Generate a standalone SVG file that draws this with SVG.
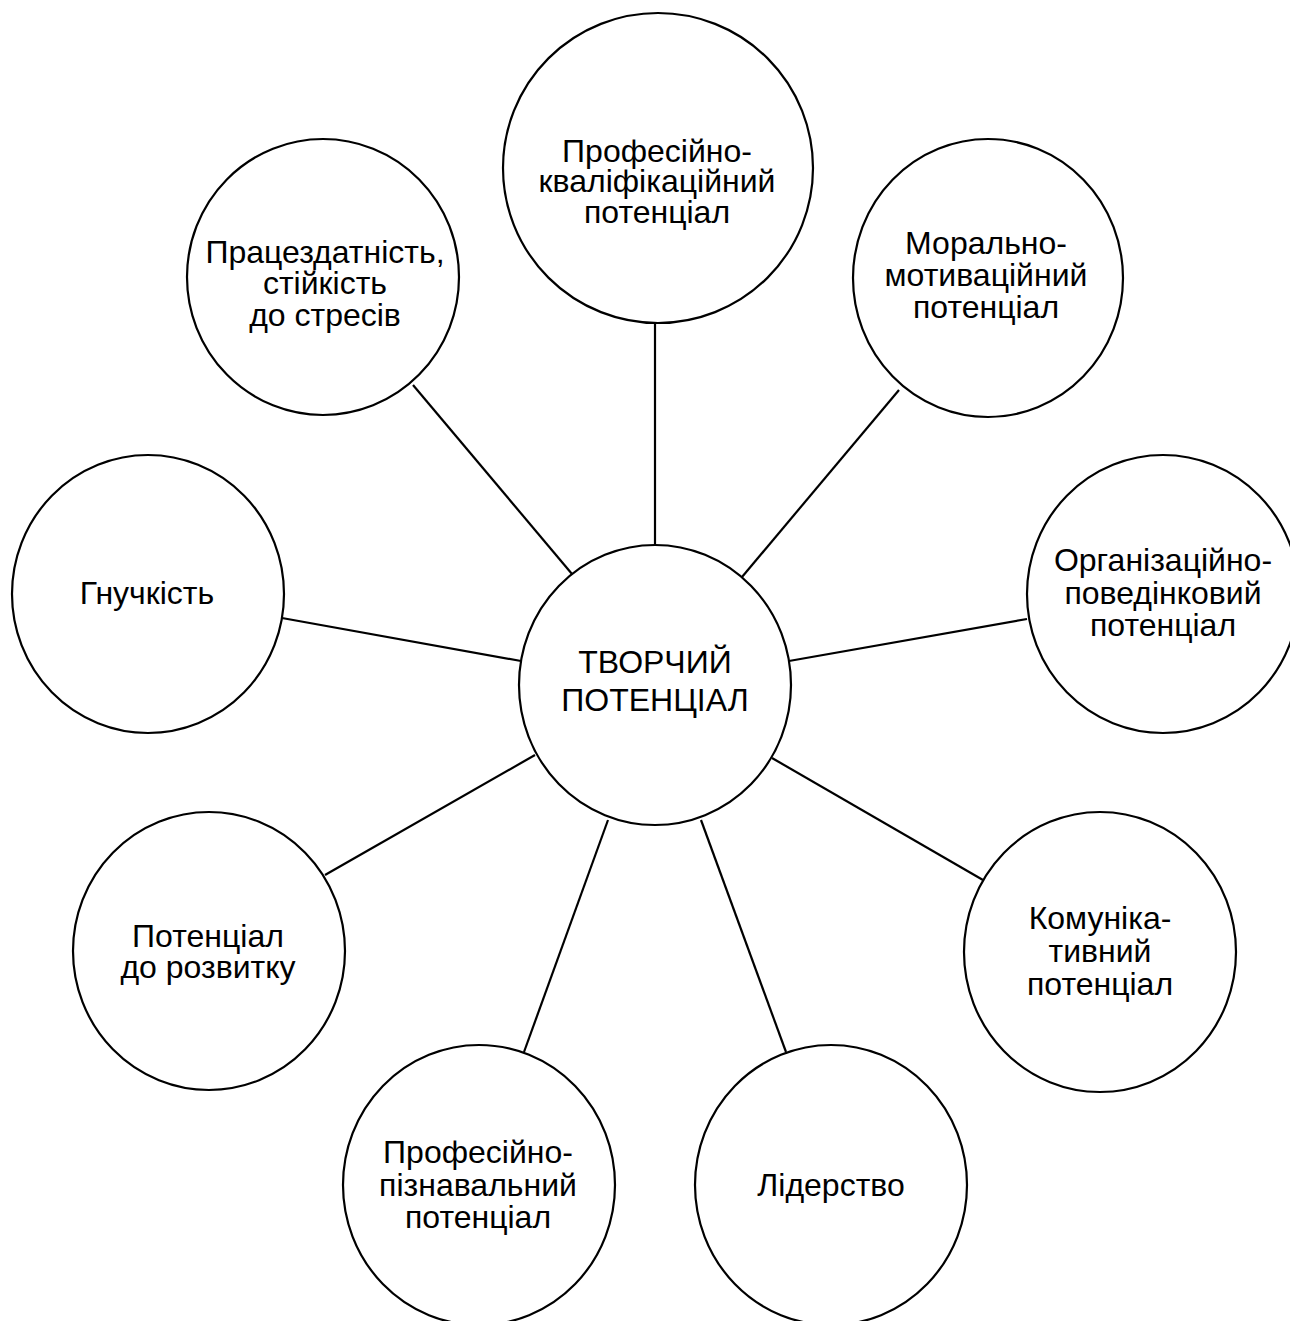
<svg xmlns="http://www.w3.org/2000/svg" width="1290" height="1321" viewBox="0 0 1290 1321">
<style>
.n{fill:#fff;stroke:#000;stroke-width:2.2}
.t{font-family:"Liberation Sans",Arial,sans-serif;font-size:32px;fill:#000;text-anchor:middle}
.c line{stroke:#000;stroke-width:2.2}
</style>
<rect width="1290" height="1321" fill="#fff"/>
<g class="c" id="connectors">
<line x1="655" y1="323" x2="655" y2="546"/>
<line x1="413" y1="385" x2="572" y2="574"/>
<line x1="899" y1="390" x2="742" y2="577"/>
<line x1="1027" y1="619" x2="789" y2="661"/>
<line x1="282" y1="618" x2="521" y2="661"/>
<line x1="325" y1="875" x2="535" y2="755"/>
<line x1="983" y1="880" x2="772" y2="758"/>
<line x1="524" y1="1052" x2="608" y2="820"/>
<line x1="786" y1="1052" x2="701" y2="820"/>
</g>
<g id="n-top">
<ellipse class="n" cx="658" cy="168" rx="155" ry="155"/>
<text class="t" x="657" y="162">Професійно-</text>
<text class="t" x="657" y="192">кваліфікаційний</text>
<text class="t" x="657" y="223">потенціал</text>
</g>
<g id="n-topleft">
<ellipse class="n" cx="323" cy="277" rx="136" ry="138"/>
<text class="t" x="325" y="263">Працездатність,</text>
<text class="t" x="325" y="294">стійкість</text>
<text class="t" x="325" y="326">до стресів</text>
</g>
<g id="n-topright">
<ellipse class="n" cx="988" cy="278" rx="135" ry="139"/>
<text class="t" x="986" y="254">Морально-</text>
<text class="t" x="986" y="286">мотиваційний</text>
<text class="t" x="986" y="318">потенціал</text>
</g>
<g id="n-right">
<ellipse class="n" cx="1163" cy="594" rx="136" ry="139"/>
<text class="t" x="1163" y="571">Організаційно-</text>
<text class="t" x="1163" y="604">поведінковий</text>
<text class="t" x="1163" y="636">потенціал</text>
</g>
<g id="n-left">
<ellipse class="n" cx="148" cy="594" rx="136" ry="139"/>
<text class="t" x="147" y="604">Гнучкість</text>
</g>
<g id="n-center">
<ellipse class="n" cx="655" cy="685" rx="136" ry="140"/>
<text class="t" x="655" y="673">ТВОРЧИЙ</text>
<text class="t" x="655" y="711">ПОТЕНЦІАЛ</text>
</g>
<g id="n-bottomleft">
<ellipse class="n" cx="209" cy="951" rx="136" ry="139"/>
<text class="t" x="208" y="947">Потенціал</text>
<text class="t" x="208" y="978">до розвитку</text>
</g>
<g id="n-bottomright">
<ellipse class="n" cx="1100" cy="952" rx="136" ry="140"/>
<text class="t" x="1100" y="929">Комуніка-</text>
<text class="t" x="1100" y="962">тивний</text>
<text class="t" x="1100" y="995">потенціал</text>
</g>
<g id="n-bottom1">
<ellipse class="n" cx="479" cy="1185" rx="136" ry="140"/>
<text class="t" x="478" y="1163">Професійно-</text>
<text class="t" x="478" y="1196">пізнавальний</text>
<text class="t" x="478" y="1228">потенціал</text>
</g>
<g id="n-bottom2">
<ellipse class="n" cx="831" cy="1185" rx="136" ry="140"/>
<text class="t" x="831" y="1196">Лідерство</text>
</g>
</svg>
